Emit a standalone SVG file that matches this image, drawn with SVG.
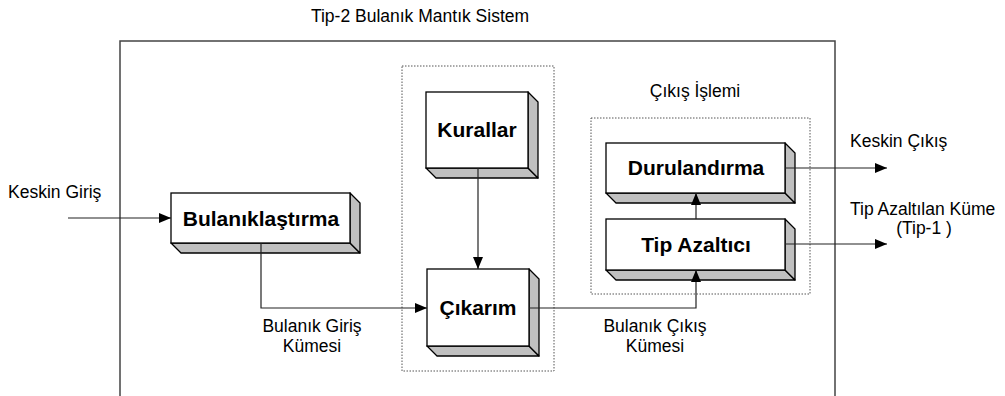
<svg xmlns="http://www.w3.org/2000/svg" width="1005" height="396" viewBox="0 0 1005 396">
<defs>
<style>
.lbl{font-family:"Liberation Sans",Arial,sans-serif;font-size:17.5px;fill:#000}
.bl{font-family:"Liberation Sans",Arial,sans-serif;font-size:21px;font-weight:bold;fill:#000;text-anchor:middle}
.front{fill:#fff;stroke:#000;stroke-width:1.3}
.side{fill:#c0c0c0;stroke:#000;stroke-width:1.3;stroke-linejoin:round}
.dot{fill:none;stroke:#555;stroke-width:1;stroke-dasharray:1.5,1.5}
.con{fill:none;stroke:#222;stroke-width:1.2}
</style>
<marker id="ah" viewBox="0 0 12 10" refX="12" refY="5" markerWidth="12" markerHeight="10" markerUnits="userSpaceOnUse" orient="auto">
<path d="M0,0 L12,5 L0,10 Z" fill="#000"/>
</marker>
</defs>
<rect width="1005" height="396" fill="#fff"/>
<g id="frame">
<path d="M120,400 V41 H835 V400" fill="none" stroke="#444" stroke-width="1.5"/>
<text class="lbl" x="420" y="22" text-anchor="middle">Tip-2 Bulanık Mantık Sistem</text>
</g>
<g id="inference-group">
<rect class="dot" x="402" y="66" width="152" height="305"/>
</g>
<g id="output-group">
<rect class="dot" x="591" y="118" width="219" height="176"/>
<text class="lbl" x="695" y="97" text-anchor="middle">Çıkış İşlemi</text>
</g>
<g id="bulaniklastirma">
<polygon class="side" points="171,243 350,243 360,253 181,253"/>
<polygon class="side" points="350,193 360,203 360,253 350,243"/>
<rect class="front" x="171" y="193" width="179" height="50"/>
<text class="bl" x="261" y="226">Bulanıklaştırma</text>
</g>
<g id="kurallar">
<polygon class="side" points="426,168 528,168 538,178 436,178"/>
<polygon class="side" points="528,92 538,102 538,178 528,168"/>
<rect class="front" x="426" y="92" width="102" height="76"/>
<text class="bl" x="477" y="137">Kurallar</text>
</g>
<g id="cikarim">
<polygon class="side" points="427,346 529,346 539,356 437,356"/>
<polygon class="side" points="529,269 539,279 539,356 529,346"/>
<rect class="front" x="427" y="269" width="102" height="77"/>
<text class="bl" x="478" y="315">Çıkarım</text>
</g>
<g id="durulandirma">
<polygon class="side" points="606,193 785,193 795,203 616,203"/>
<polygon class="side" points="785,143 795,153 795,203 785,193"/>
<rect class="front" x="606" y="143" width="179" height="50"/>
<text class="bl" x="696" y="175">Durulandırma</text>
</g>
<g id="tip-azaltici">
<polygon class="side" points="606,270 785,270 795,280 616,280"/>
<polygon class="side" points="785,219 795,229 795,280 785,270"/>
<rect class="front" x="606" y="219" width="179" height="51"/>
<text class="bl" x="696" y="252">Tip Azaltıcı</text>
</g>
<g id="connectors">
<line class="con" x1="68" y1="218" x2="171" y2="218" marker-end="url(#ah)"/>
<polyline class="con" points="261,243 261,308 427,308" marker-end="url(#ah)"/>
<line class="con" x1="478" y1="168" x2="478" y2="269" marker-end="url(#ah)"/>
<polyline class="con" points="529,308 696,308 696,270" marker-end="url(#ah)"/>
<line class="con" x1="696" y1="219" x2="696" y2="193" marker-end="url(#ah)"/>
<line class="con" x1="785" y1="168" x2="887" y2="168" marker-end="url(#ah)"/>
<line class="con" x1="785" y1="244" x2="887" y2="244" marker-end="url(#ah)"/>
</g>
<g id="labels">
<text class="lbl" x="8" y="198">Keskin Giriş</text>
<text class="lbl" x="312" y="332" text-anchor="middle">Bulanık Giriş</text>
<text class="lbl" x="312" y="352" text-anchor="middle">Kümesi</text>
<text class="lbl" x="655" y="332" text-anchor="middle">Bulanık Çıkış</text>
<text class="lbl" x="655" y="352" text-anchor="middle">Kümesi</text>
<text class="lbl" x="850" y="147">Keskin Çıkış</text>
<text class="lbl" x="850" y="215">Tip Azaltılan Küme</text>
<text class="lbl" x="924" y="234" text-anchor="middle">(Tip-1 )</text>
</g>
</svg>
